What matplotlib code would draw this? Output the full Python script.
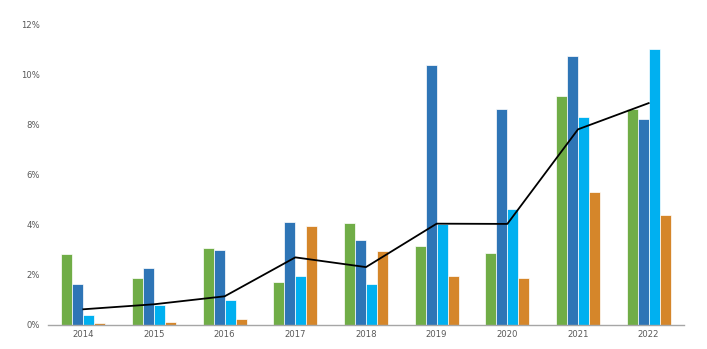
import matplotlib
matplotlib.use("Agg")
import matplotlib.pyplot as plt
import numpy as np
from matplotlib.ticker import FuncFormatter

years = ["2014", "2015", "2016", "2017", "2018", "2019", "2020", "2021", "2022"]
green_vals = [2.81, 1.85, 3.05, 1.72, 4.07, 3.16, 2.86, 9.15, 8.63]
blue_vals = [1.62, 2.28, 2.97, 4.12, 3.40, 10.40, 8.65, 10.77, 8.23]
cyan_vals = [0.38, 0.78, 0.97, 1.96, 1.62, 4.01, 4.63, 8.30, 11.04]
orange_vals = [0.05, 0.09, 0.22, 3.96, 2.94, 1.93, 1.88, 5.31, 4.40]
line_vals = [0.61, 0.81, 1.13, 2.69, 2.30, 4.04, 4.03, 7.82, 8.87]
y_ticks = [0, 2, 4, 6, 8, 10, 12]

series = [
    (green_vals, "#70AD47"),
    (blue_vals, "#2E75B6"),
    (cyan_vals, "#00B0F0"),
    (orange_vals, "#D5862A"),
]

W, H = 707, 349
fig = plt.figure(figsize=(W / 100, H / 100), dpi=100)
ax = fig.add_axes([48 / W, (H - 324.5) / H, (684 - 48) / W, (324.5 - 25) / H])

x = np.arange(len(years))
bw = 0.155
for i, (vals, col) in enumerate(series):
    ax.bar(x + (i - 1.5) * bw, vals, width=bw, color=col,
           edgecolor="white", linewidth=0.5, zorder=2)

ax.plot(x, line_vals, color="black", linewidth=1.3, zorder=3)

ax.set_xlim(-0.5, len(years) - 0.5)
ax.set_ylim(0, 12)
ax.set_yticks(y_ticks)
ax.yaxis.set_major_formatter(FuncFormatter(lambda v, p: f"{v:.0f}%"))
ax.set_xticks(x)
ax.set_xticklabels(years)

for s in ["top", "right", "left"]:
    ax.spines[s].set_visible(False)
ax.spines["bottom"].set_color("#A6A6A6")
ax.spines["bottom"].set_linewidth(1.0)
ax.tick_params(axis="both", length=0, labelsize=6.1, colors="#595959")
ax.tick_params(axis="y", pad=6)
ax.tick_params(axis="x", pad=4)

fig.savefig("out.png", dpi=100)
